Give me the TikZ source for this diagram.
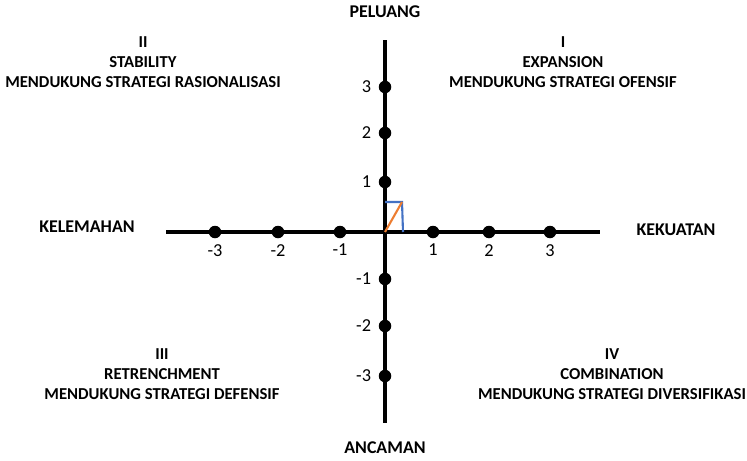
\documentclass[tikz,border=0pt]{standalone}
\usepackage{fontspec}
\setmainfont{Carlito}
\usetikzlibrary{positioning}

\begin{document}
\begin{tikzpicture}[x=0.02cm,y=-0.02cm,
                    axis/.style={line width=2.4pt},
                    dot/.style={circle,fill=black,inner sep=0pt,minimum size=0.25cm},
                    num/.style={font=\fontsize{10.4}{12}\selectfont,inner sep=1pt},
                    lbl/.style={font=\bfseries\fontsize{9.5}{11.3}\selectfont,align=center},
                    axislbl/.style={font=\bfseries\fontsize{10.2}{12}\selectfont}]
    \useasboundingbox (0,0) rectangle (747,460);
    % axes
    \coordinate (o) at (385,232);
    \coordinate (w) at (166,232);
    \coordinate (e) at (600,232);
    \coordinate (n) at (385,40);
    \coordinate (s) at (385,423);
    \draw[axis] (w) -- (e);
    \draw[axis] (n) -- (s);
    % points on the x axis
    \node[dot] (xm3) at (215,232) {};
    \node[dot] (xm2) at (278,232) {};
    \node[dot] (xm1) at (340,232) {};
    \node[dot] (x1)  at (433,232) {};
    \node[dot] (x2)  at (489,232) {};
    \node[dot] (x3)  at (550,232) {};
    \foreach \p/\t in {xm3/-3,xm2/-2,xm1/-1,x1/1,x2/2,x3/3}
        \node[num,below=2pt of \p] {\t};
    % points on the y axis
    \node[dot] (y3)  at (385,87) {};
    \node[dot] (y2)  at (385,133) {};
    \node[dot] (y1)  at (385,182) {};
    \node[dot] (ym1) at (385,279) {};
    \node[dot] (ym2) at (385,326) {};
    \node[dot] (ym3) at (385,376) {};
    \foreach \p/\t in {y3/3,y2/2,y1/1,ym1/-1,ym2/-2,ym3/-3}
        \node[num,left=3pt of \p] {\t};
    % small vector
    \coordinate (b1) at (385,202);
    \coordinate (b2) at (402,202);
    \coordinate (b3) at (403,232);
    \draw[color={rgb,255:red,68;green,114;blue,196},line width=1.2pt] (b1) -- (b2) -- (b3);
    \draw[color={rgb,255:red,237;green,125;blue,49},line width=1.2pt] (o) -- (b2);
    % axis labels
    \node[axislbl] (peluang) at (385,12) {PELUANG};
    \node[axislbl] (ancaman) at (385,448) {ANCAMAN};
    \node[axislbl] (kelemahan) at (87,227) {KELEMAHAN};
    \node[axislbl] (kekuatan) at (676,230) {KEKUATAN};
    % quadrants
    \node[lbl] (q2) at (143,62) {II\\STABILITY\\MENDUKUNG STRATEGI RASIONALISASI};
    \node[lbl] (q1) at (563,62) {I\\EXPANSION\\MENDUKUNG STRATEGI OFENSIF};
    \node[lbl] (q3) at (162,374) {III\\RETRENCHMENT\\MENDUKUNG STRATEGI DEFENSIF};
    \node[lbl] (q4) at (612,374) {IV\\COMBINATION\\MENDUKUNG STRATEGI DIVERSIFIKASI};
\end{tikzpicture}
\end{document}
